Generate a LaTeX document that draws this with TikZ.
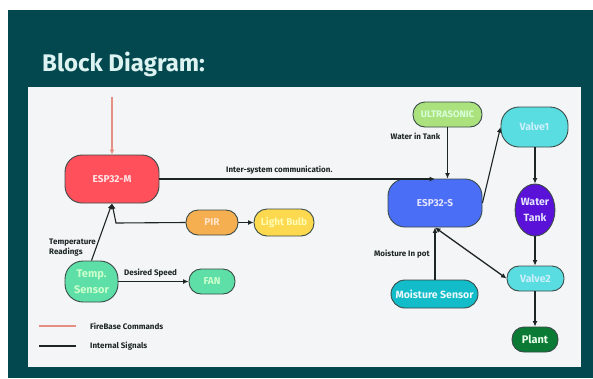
\documentclass[tikz,border=0pt]{standalone}
\usepackage{fontspec}
\setmainfont{Fira Sans}
\usetikzlibrary{arrows.meta,calc,shapes.geometric}
\definecolor{slidebg}{HTML}{03474F}
\definecolor{panelbg}{HTML}{F4F5F6}
\definecolor{edgec}{HTML}{3A4A48}
\definecolor{linkc}{HTML}{1C2424}
\definecolor{redlink}{HTML}{E58F85}
\definecolor{titlec}{HTML}{DDF3F1}
\tikzset{
 blk/.style={draw=edgec,line width=0.9pt,rounded corners=#1,inner sep=0pt,text=white,align=center,font=\fontsize{10}{13}\selectfont\bfseries},
 blk/.default=11pt,
 link/.style={draw=linkc,line width=1.1pt,-{Latex[length=5.5pt,width=5pt]}},
 dlink/.style={draw=linkc,line width=1.3pt,{Latex[length=5.5pt,width=5pt]}-{Latex[length=5.5pt,width=5pt]}},
 cmd/.style={draw=redlink,line width=1.1pt,-{Latex[length=5pt,width=5pt]}},
 lab/.style={inner sep=0pt,text=linkc,font=\fontsize{8}{10}\selectfont\bfseries,align=left},
}
\begin{document}
\begin{tikzpicture}[x=1pt,y=-1pt]
\useasboundingbox (0,0) rectangle (593,378);
\fill[white] (0,0) rectangle (593,378);
\fill[slidebg] (8,10) rectangle (593,378);
\fill[panelbg] (28,87) rectangle (581,367);
\node[inner sep=0pt,anchor=west,text=titlec,font=\fontsize{24}{28}\selectfont\bfseries] (title) at (42,64) {Block Diagram:};

\node[blk=17pt,minimum width=94pt,minimum height=48pt,fill={rgb,255:red,255;green,80;blue,92},text=white!90!red] (espm) at (112,179) {ESP32-M};
\node[blk=12pt,fill={rgb,255:red,245;green,174;blue,80},minimum width=52pt,minimum height=25pt,text=white!80!orange] (pir) at (212,222.5) {PIR};
\node[blk=13pt,fill={rgb,255:red,252;green,217;blue,78},minimum width=60pt,minimum height=27pt,text=white!70!yellow] (bulb) at (284,222.5) {Light Bulb};
\node[blk=18pt,fill={rgb,255:red,94;green,223;blue,168},minimum width=53pt,minimum height=41pt,text=white!80!green,font=\fontsize{11}{16}\selectfont\bfseries] (temp) at (91.5,281.5) {Temp.\\Sensor};
\node[blk=12pt,fill={rgb,255:red,94;green,223;blue,168},minimum width=46pt,minimum height=25pt,text=white!80!green] (fan) at (212,281.5) {FAN};
\node[blk=12pt,fill={rgb,255:red,171;green,226;blue,126},minimum width=69pt,minimum height=25pt,text=white!85!green,font=\fontsize{9.5}{13}\selectfont\bfseries] (ultra) at (447.5,114.5) {ULTRASONIC};
\node[blk=18pt,fill={rgb,255:red,90;green,221;blue,224},minimum width=67pt,minimum height=40pt,text=white!80!cyan,font=\fontsize{10.5}{13}\selectfont\bfseries] (valvea) at (534.5,127) {Valve1};
\node[blk=17pt,fill={rgb,255:red,74;green,110;blue,245},minimum width=94pt,minimum height=48pt,text=white!90!blue] (esps) at (435,203) {ESP32-S};
\node[ellipse,draw=edgec,line width=0.9pt,inner sep=0pt,fill={rgb,255:red,90;green,18;blue,216},minimum width=37pt,minimum height=52pt,text=white!90!blue,align=center,font=\fontsize{10.5}{16}\selectfont\bfseries] (tank) at (535,210) {Water\\Tank};
\node[blk=12pt,fill={rgb,255:red,90;green,221;blue,224},minimum width=57pt,minimum height=25pt,text=white!80!cyan,font=\fontsize{10.5}{13}\selectfont\bfseries] (valveb) at (535.5,278.5) {Valve2};
\node[blk=14pt,fill={rgb,255:red,18;green,188;blue,200},minimum width=87pt,minimum height=28pt,text=white!92!cyan,font=\fontsize{10.5}{13}\selectfont\bfseries] (moist) at (434.5,294) {Moisture Sensor};
\node[blk=12pt,fill={rgb,255:red,10;green,122;blue,53},minimum width=46pt,minimum height=25pt,text=white!92!green,font=\fontsize{11}{13}\selectfont\bfseries] (plant) at (535,339.5) {Plant};

\coordinate (cloud) at (112,97);
\coordinate (elbow) at (116,223);
\draw[cmd] (cloud) -- (espm.north);
\draw[link] (espm.east) -- (espm.east -| esps.north);
\draw[link] (pir.west) -- (elbow) -- (espm.south);
\draw[link] (temp.north) -- (espm.south);
\draw[link] (pir.east) -- (bulb.west);
\draw[link] (temp.east) -- (fan.west);
\draw[link] (ultra.south) -- (ultra.south |- esps.north);
\draw[link] (esps.east) -- (valvea.west);
\draw[link] (valvea.south -| tank.north) -- (tank.north);
\draw[link] (tank.south) -- (tank.south |- valveb.north);
\draw[link] (valveb.south -| plant.north) -- (plant.north);
\draw[link] (moist.north -| esps.south) -- (esps.south);
\draw[dlink] (esps.south) -- (valveb.west);

\node[lab,anchor=west] (l1) at (226,170.5) {Inter-system communication.};
\node[lab,anchor=west] (l2) at (390.5,136) {Water in Tank};
\node[lab,anchor=west] (l3) at (374,254) {Moisture In pot};
\node[lab,anchor=west] (l4) at (124,273) {Desired Speed};
\node[lab,anchor=west] (l5) at (49,247.5) {Temperature\\[-0.5pt]Readings};
\coordinate (ka) at (39,326);
\coordinate (kb) at (76,326);
\coordinate (kc) at (39,346);
\coordinate (kd) at (76,346);
\draw[draw=redlink,line width=1.1pt] (ka) -- (kb);
\draw[draw=linkc,line width=1.3pt] (kc) -- (kd);
\node[lab,anchor=west] (l6) at (90,326) {FireBase Commands};
\node[lab,anchor=west] (l7) at (90,346) {Internal Signals};
\end{tikzpicture}
\end{document}
